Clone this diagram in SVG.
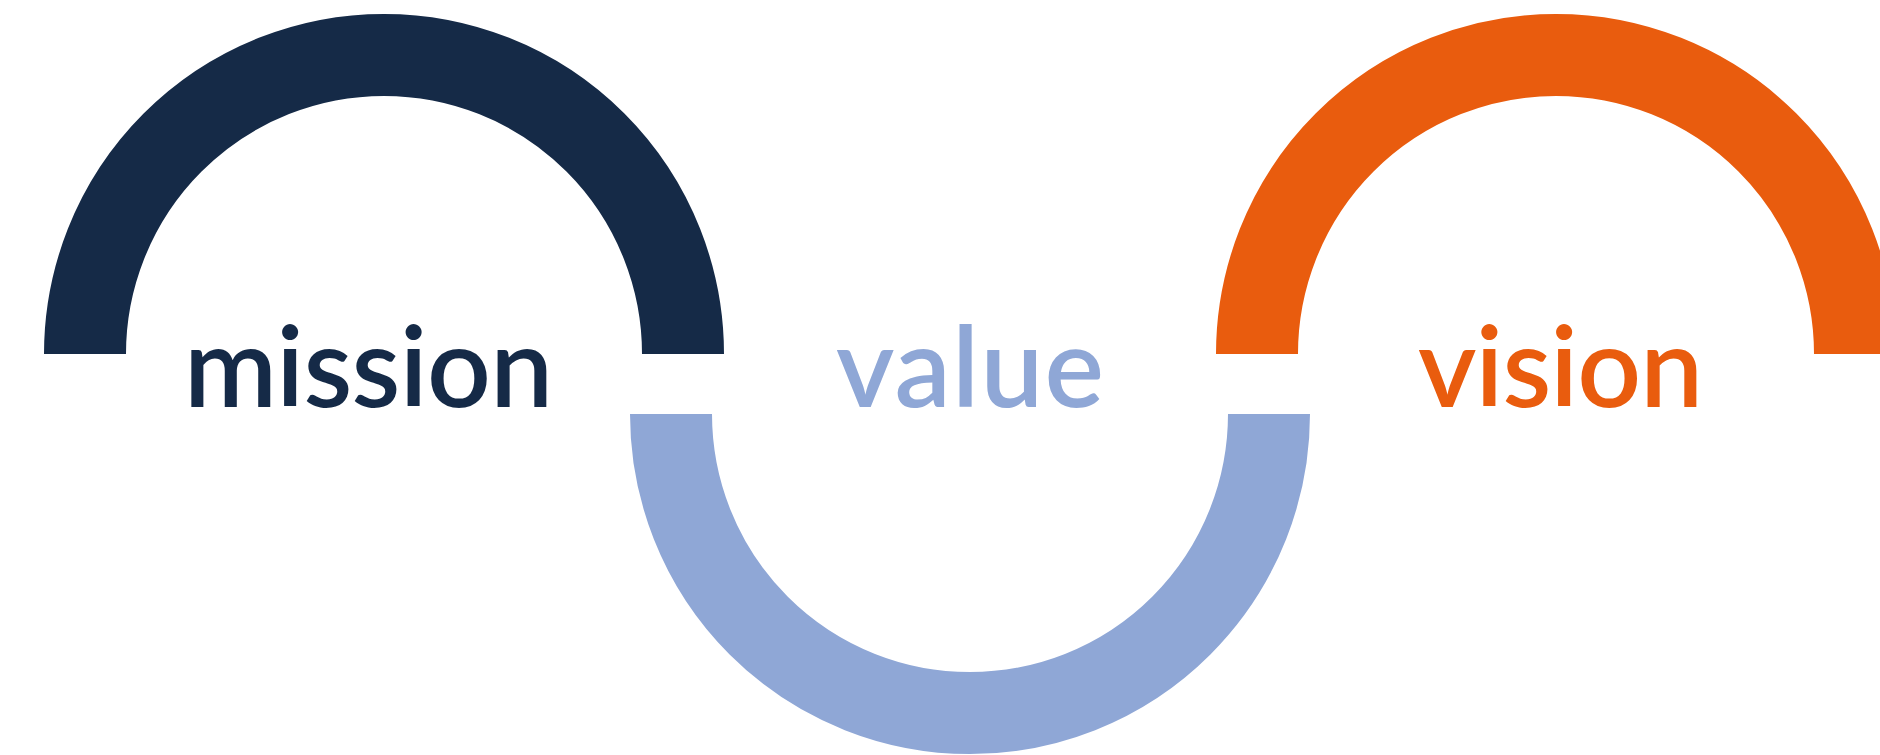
<svg xmlns="http://www.w3.org/2000/svg" width="1880" height="755" viewBox="0 0 1880 755">
<style>
.arc{fill:none;stroke-width:82;stroke-linecap:butt}
.lbl{font-family:Lato,"Noto Sans","Liberation Sans",sans-serif;font-size:112px;font-weight:600}
</style>
<rect width="1880" height="755" fill="#ffffff"/>
<g id="connectors">
<path id="arc-mission" class="arc" stroke="#152A47" d="M 85 354 A 299 299 0 0 1 683 354"/>
<path id="arc-value" class="arc" stroke="#8FA7D6" d="M 671 414 A 299 299 0 0 0 1269 414"/>
<path id="arc-vision" class="arc" stroke="#E95C0E" d="M 1257 354 A 299 299 0 0 1 1855 354"/>
</g>
<g id="mission"><text class="lbl" x="184" y="407" textLength="369" fill="#152A47">mission</text></g>
<g id="value"><text class="lbl" x="836" y="407" textLength="268" fill="#8FA7D6">value</text></g>
<g id="vision"><text class="lbl" x="1418" y="407" textLength="285" fill="#E95C0E">vision</text></g>
</svg>
